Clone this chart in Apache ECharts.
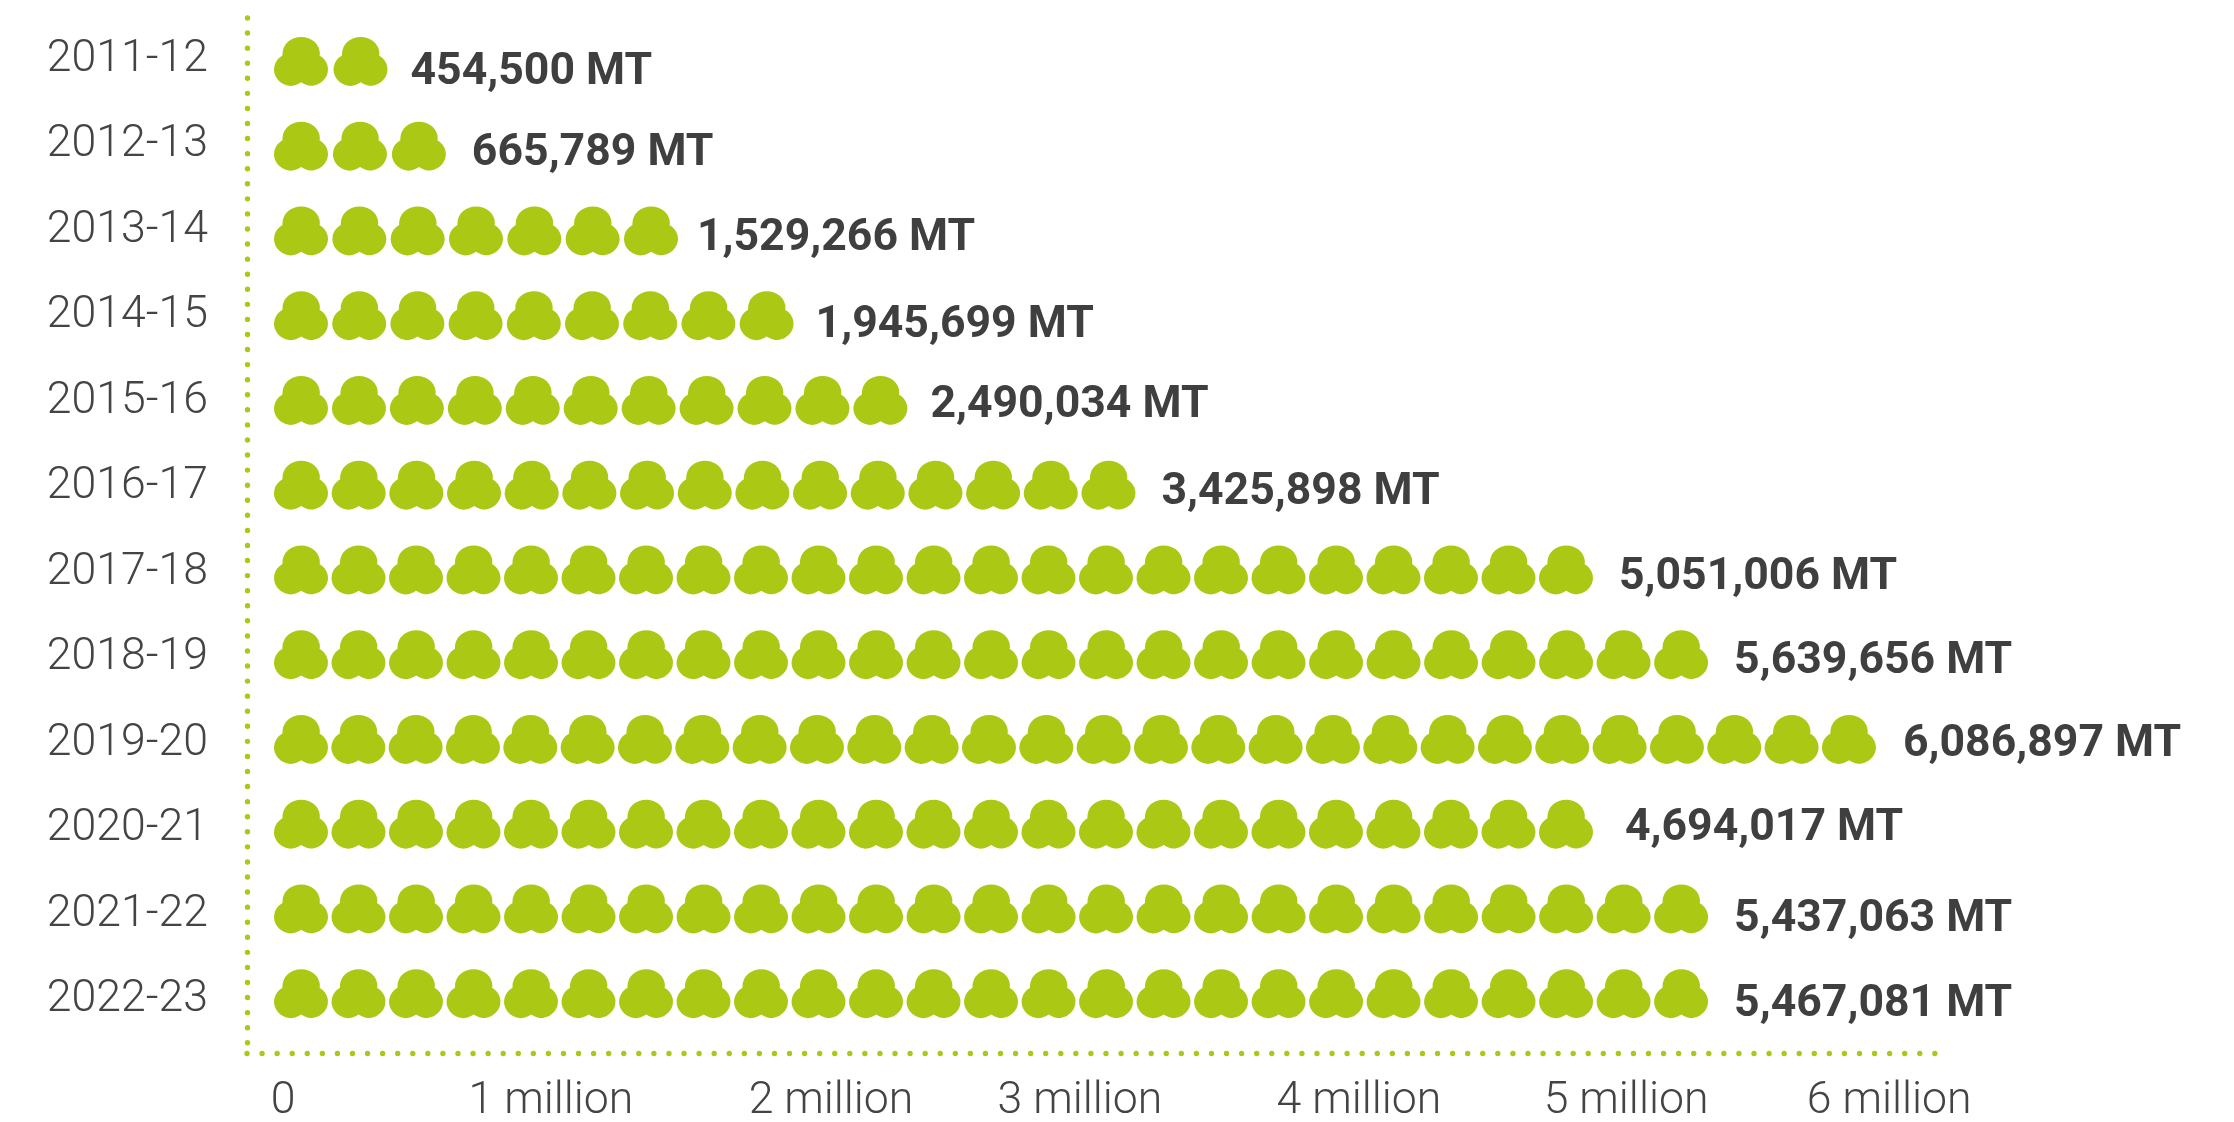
<!DOCTYPE html>
<html>
<head>
<meta charset="utf-8">
<style>
html,body{margin:0;padding:0;background:#fff}
#chart{width:2234px;height:1122px}
</style>
<script src="https://cdn.jsdelivr.net/npm/echarts@6/dist/echarts.min.js"></script>
</head>
<body>
<div id="chart"></div>
<script>
const seasons = ['2011-12','2012-13','2013-14','2014-15','2015-16','2016-17','2017-18','2018-19','2019-20','2020-21','2021-22','2022-23'];
const tonnes = [454500,665789,1529266,1945699,2490034,3425898,5051006,5639656,6086897,4694017,5437063,5467081];
// icons drawn per row, and how far along the axis each row of icons reaches
const iconCounts = [2,3,7,9,11,15,23,25,28,23,25,25];
const iconReach = [424000,642000,1509000,1941000,2366000,3218000,4927000,5357000,5984000,4927000,5357000,5357000];
const tickNames = ['0','1 million','2 million','3 million','4 million','5 million','6 million'];
// the labels are not evenly spaced in the original
const tickValues = [0,1001000,2047000,2977000,4019000,5017000,6000000];
const rowNumbers = [0,1,2,3,4,5,6,7,8,9,10,11];

const green = '#abc914';
const clover = 'path://M82 0a50 50 0 0 1 50 50a50 50 0 0 1 -1 6a50 50 0 0 1 -18 91a50 50 0 0 1 -31 -11a50 50 0 0 1 -32 11a50 50 0 0 1 -18 -91a50 50 0 0 1 0 -6a50 50 0 0 1 50 -50z';
const dotted = {color: green, width: 5.4, type: [0.01, 15.06], cap: 'round'};
// the value labels sit a little unevenly in the original, per row
const labelOffsets = [[-20,11],[-17,8],[-24,8],[-21,10],[-20,5],[-17,8],[-17,8],[-17,7],[-16,5],[-11,5],[-17,11],[-17,11]];

let myChart = echarts.init(document.getElementById('chart'));
let option = {
    backgroundColor: '#fff',
    animation: false,
    textStyle: {fontFamily: 'Roboto'},
    grid: [
        // icons
        {left: 247, top: 19, width: 1688, height: 1017, outerBoundsMode: 'none'},
        // dotted frame and labels
        {left: 247, top: 18, width: 1688, height: 1035, outerBoundsMode: 'none'}
    ],
    xAxis: [
        {gridIndex: 0, type: 'value', min: -134500, max: 6171000, show: false},
        {
            gridIndex: 1, type: 'value', min: -134500, max: 6171000,
            splitLine: {show: false},
            axisTick: {show: false},
            axisLine: {show: true, onZero: false, lineStyle: dotted},
            axisLabel: {
                customValues: tickValues,
                margin: 26,
                fontSize: 44.6,
                fontWeight: 300,
                fontFamily: 'Roboto',
                color: '#444',
                formatter: function (v) {
                    return tickNames[tickValues.indexOf(v)];
                }
            }
        }
    ],
    yAxis: [
        {gridIndex: 0, type: 'category', inverse: true, data: seasons, show: false},
        {
            gridIndex: 1, type: 'value', inverse: true, min: -0.485, max: 11.62,
            splitLine: {show: false},
            axisTick: {show: false},
            axisLine: {show: true, onZero: false, lineStyle: dotted},
            axisLabel: {
                customValues: rowNumbers,
                margin: 39,
                fontSize: 44.6,
                fontWeight: 300,
                fontFamily: 'Roboto',
                color: '#444',
                formatter: function (v) {
                    return seasons[v];
                }
            }
        }
    ],
    series: [{
        type: 'pictorialBar',
        xAxisIndex: 0,
        yAxisIndex: 0,
        symbol: clover,
        symbolSize: [54, 49],
        symbolOffset: [-9, 0],
        symbolPosition: 'start',
        itemStyle: {color: green},
        label: {
            show: true,
            position: 'right',
            distance: 34,
            fontSize: 44.6,
            fontWeight: 700,
            fontFamily: 'Roboto',
            color: '#3f3f3f',
            formatter: function (p) {
                return tonnes[p.dataIndex].toLocaleString('en-US') + ' MT';
            }
        },
        data: iconReach.map(function (reach, i) {
            return {
                value: reach,
                symbolRepeat: iconCounts[i],
                symbolBoundingData: reach,
                label: {offset: labelOffsets[i]}
            };
        })
    }]
};
myChart.setOption(option);
</script>
</body>
</html>
